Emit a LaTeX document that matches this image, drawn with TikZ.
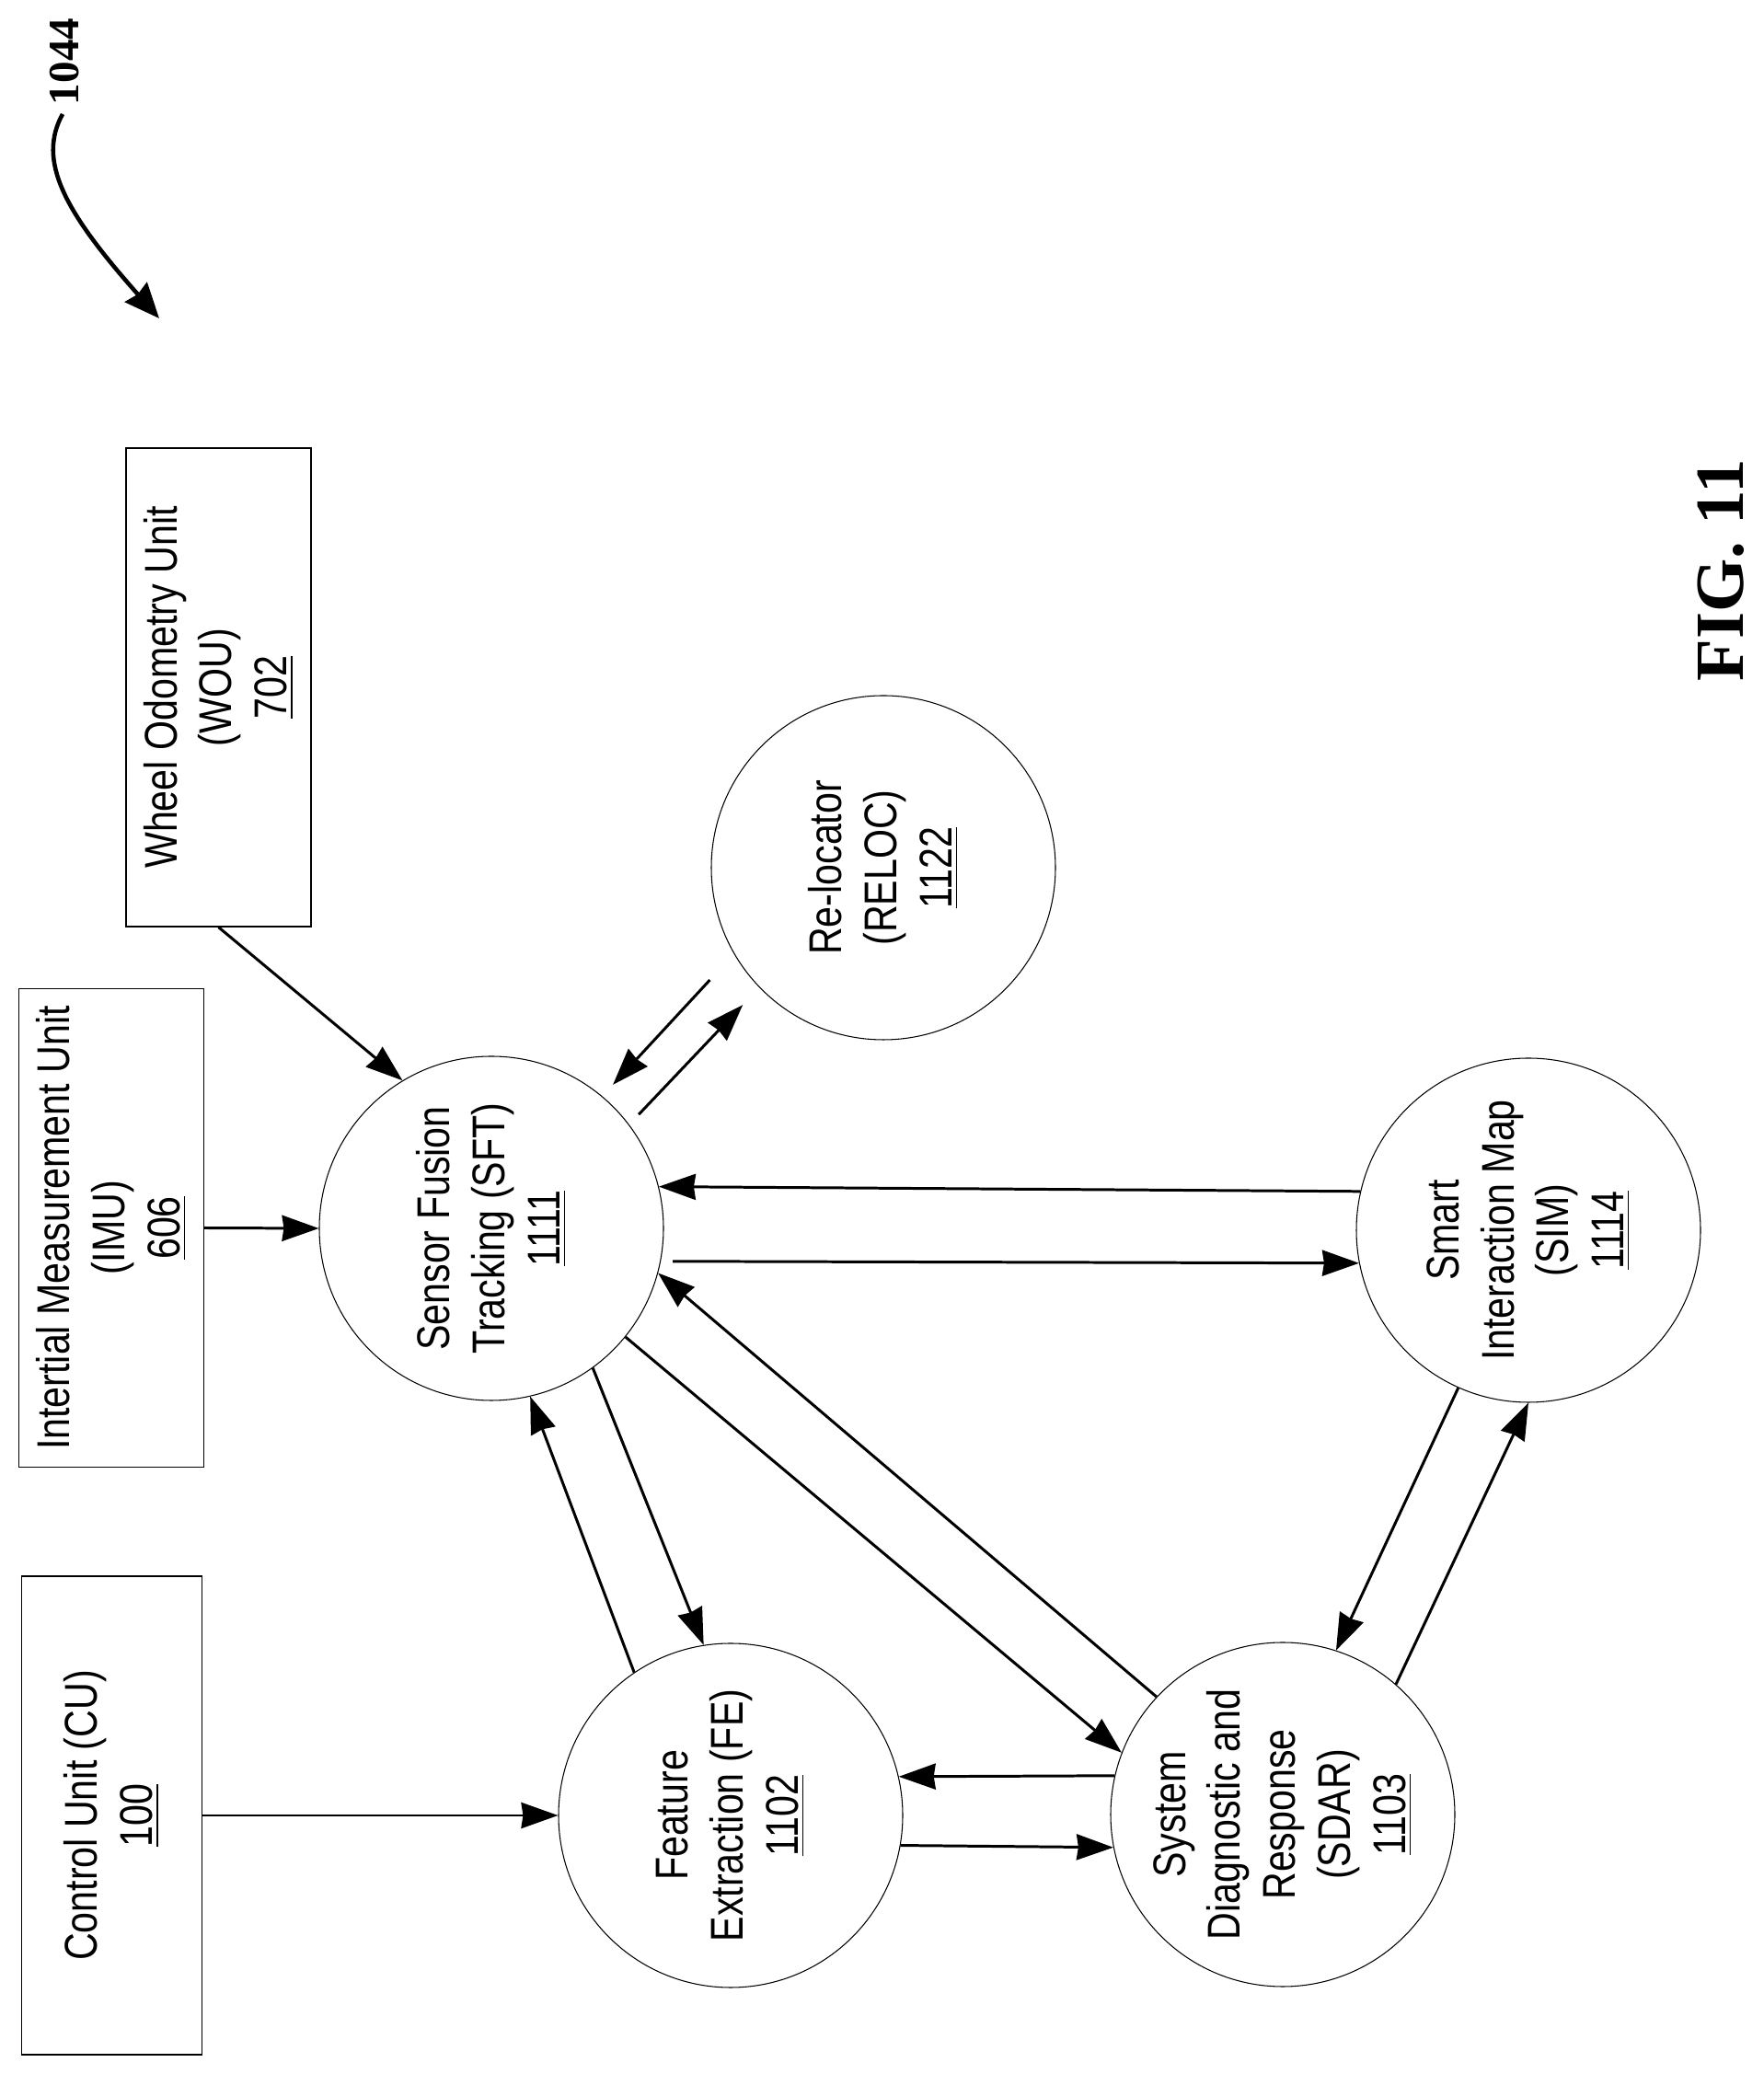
\documentclass[tikz,border=0pt]{standalone}
\usepackage{fontspec}
\setmainfont[FakeStretch=0.825]{Liberation Sans}
\newfontfamily\figfont{Liberation Serif}
\usetikzlibrary{arrows.meta}

\begin{document}
\begin{tikzpicture}[
    >={Stealth[length=4mm, width=2.8mm, inset=0.2mm]},
    % Core styles (all blocks are turned by 90 deg: anchor angle = page angle - 90)
    block/.style={
        draw=black, fill=white, line width=0.4pt, rotate=90,
        align=center, font=\fontsize{14.2}{17}\selectfont, inner sep=0pt
    },
    unitbox/.style={block, rectangle, minimum width=5.2cm, minimum height=2.01cm},
    unitcirc/.style={block, circle, minimum size=3.74cm, line width=0.3pt},
    flow/.style={->, line width=0.85pt},
    figlabel/.style={font=\figfont\bfseries\fontsize{#1}{#1}\selectfont, rotate=90, inner sep=0pt}
]

\useasboundingbox (0,0) rectangle (19.16,22.54);

% === REFERENCE LABEL ===
\node[figlabel=13.4] (reflabel) at (0.70,21.87) {1044};
\coordinate (curlstart) at (0.68,21.30);
\coordinate (curlend) at (1.73,19.08);
\draw[->, line width=1.3pt, >={Stealth[length=3.8mm, width=3.2mm, inset=0.3mm]}] (curlstart)
    .. controls (0.40,20.79) and (0.70,20.24) .. (curlend);

% === INPUT UNITS ===
\node[unitbox, minimum height=1.96cm] (cu) at (1.215,2.81) {Control Unit (CU)\\\underline{100}};
\node[unitbox] (imu) at (1.21,9.195) {Intertial Measurement Unit\\(IMU)\\\underline{606}};
\node[unitbox] (wou) at (2.375,15.07) {Wheel Odometry Unit\\(WOU)\\\underline{702}};

% === PROCESSING BLOCKS ===
\node[unitcirc] (sft) at (5.34,9.19) {Sensor Fusion\\Tracking (SFT)\\\underline{1111}};
\node[unitcirc] (fe) at (7.94,2.81) {Feature\\Extraction (FE)\\\underline{1102}};
% five lines: negative sep keeps this circle the size of the others
\node[unitcirc, inner sep=-2mm] (sdar) at (13.94,2.82) {System\\Diagnostic and\\Response\\(SDAR)\\\underline{1103}};
\node[unitcirc] (sim) at (16.61,9.17) {Smart\\Interaction Map\\(SIM)\\\underline{1114}};
\node[unitcirc] (reloc) at (9.60,13.11) {Re-locator\\(RELOC)\\\underline{1122}};

% === INPUTS ===
\draw[flow] (cu.south) -- (fe.north);
\draw[flow] (imu.south) -- (sft.north);
\draw[flow] (wou.west) -- (sft.31.8);

% === SFT <-> RELOC (ends stay clear of the circles) ===
\draw[flow, shorten <=3.85mm, shorten >=1.7mm] (reloc.120.4) -- (sft.-40.9);
\draw[flow, shorten <=1.5mm, shorten >=2.6mm] (sft.-53.6) -- (reloc.134.6);

% === SFT <-> SIM ===
\draw[flow] (sim.77.7) -- (sft.-76.2);
\draw[flow, shorten <=1.3mm] (sft.-101.7) -- (sim.101.3);

% === SFT <-> SDAR ===
\draw[flow] (sdar.47.6) -- (sft.-105.3);
\draw[flow] (sft.-129.6) -- (sdar.69.2);

% === SFT <-> FE ===
\draw[flow] (sft.-144.8) -- (fe.9.4);
\draw[flow] (fe.34.4) -- (sft.-167);

% === FE <-> SDAR ===
\draw[flow] (sdar.77.3) -- (fe.-77.5);
\draw[flow] (fe.-100) -- (sdar.101);

% === SIM <-> SDAR ===
\draw[flow] (sim.156.4) -- (sdar.-18.5);
\draw[flow] (sdar.-41.7) -- (sim.180);

% === FIGURE LABEL ===
\node[figlabel=21.3] (figname) at (18.70,16.34) {FIG. 11};

\end{tikzpicture}
\end{document}
